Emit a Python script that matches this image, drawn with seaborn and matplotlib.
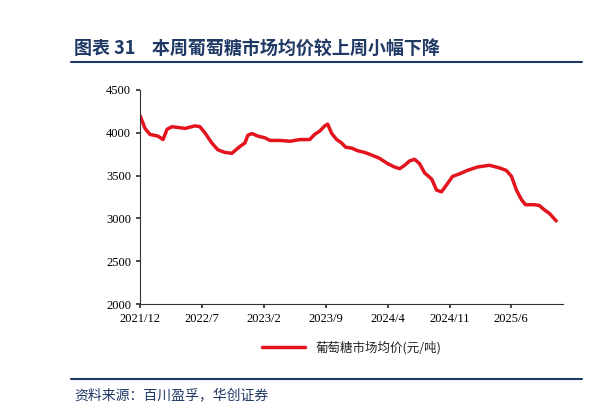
import matplotlib
matplotlib.use("Agg")
import matplotlib.pyplot as plt
import seaborn as sns
import pandas as pd

dates = ["2021-12-01","2021-12-18","2022-01-04","2022-02-01","2022-02-18","2022-03-04","2022-03-21",
 "2022-05-05","2022-06-08","2022-06-25","2022-07-12","2022-08-05","2022-08-26","2022-09-19","2022-10-13",
 "2022-11-10","2022-11-27","2022-12-07","2022-12-21","2023-01-11","2023-02-04","2023-02-21","2023-03-27",
 "2023-05-01","2023-06-04","2023-07-08","2023-07-25","2023-08-12","2023-08-29","2023-09-08","2023-09-22",
 "2023-10-09","2023-10-26","2023-11-09","2023-11-30","2023-12-20","2024-01-13","2024-02-06","2024-03-05",
 "2024-04-01","2024-04-25","2024-05-13","2024-05-30","2024-06-16","2024-07-03","2024-07-20","2024-08-07",
 "2024-08-31","2024-09-17","2024-10-04","2024-10-21","2024-11-11","2024-12-05","2025-01-01","2025-02-05",
 "2025-03-18","2025-04-21","2025-05-15","2025-06-02","2025-06-19","2025-07-06","2025-07-20","2025-08-20",
 "2025-09-06","2025-09-23","2025-10-10","2025-11-03"]
prices = [4200,4050,3980,3960,3920,4040,4070,4050,4080,4070,4000,3880,3800,3770,3760,3840,3880,3970,3990,
 3960,3940,3910,3910,3900,3920,3920,3980,4020,4080,4100,3990,3920,3880,3830,3820,3790,3770,3740,3700,
 3640,3600,3580,3620,3670,3690,3640,3530,3460,3330,3310,3390,3490,3520,3560,3600,3620,3590,3560,3490,
 3330,3220,3160,3160,3150,3100,3060,2970]
tick_labels = ["2021/12","2022/7","2023/2","2023/9","2024/4","2024/11","2025/6"]
series_name = "葡萄糖市场均价(元/吨)"

sns.set_theme(style="white")
plt.rcParams['font.family'] = ['Noto Sans CJK SC', 'DejaVu Sans']

df = pd.DataFrame({"date": pd.to_datetime(dates), "price": prices})
fig = plt.figure(figsize=(5.91, 4.16), dpi=100)
ax = fig.add_axes([0.237, 0.269, 0.715, 0.515])
sns.lineplot(data=df, x="date", y="price", color="#E3141E", linewidth=2.5, ax=ax, label=series_name)
ax.set_ylim(2000, 4500)
ax.set_yticks(range(2000, 4501, 500))
ticks = pd.to_datetime([t.replace("/", "-") + "-01" for t in tick_labels])
ax.set_xticks(ticks)
ax.set_xticklabels(tick_labels)
ax.set_xlim(pd.Timestamp("2021-12-01"), pd.Timestamp("2025-11-25"))
ax.set_xlabel(""); ax.set_ylabel("")
for s in ["top", "right"]:
    ax.spines[s].set_visible(False)
for s in ["left", "bottom"]:
    ax.spines[s].set_color("#333333"); ax.spines[s].set_linewidth(0.8)
ax.tick_params(axis="both", labelsize=9, length=3, direction="out", left=True, bottom=True, colors="#333333")
for lab in ax.get_xticklabels() + ax.get_yticklabels():
    lab.set_family(["Times New Roman", "Liberation Serif", "DejaVu Serif"])
    lab.set_color("black")
ax.legend(loc="upper center", bbox_to_anchor=(0.5, -0.12), frameon=False, fontsize=9, handlelength=3.5)

fig.text(0.125, 0.885, "图表 31    本周葡萄糖市场均价较上周小幅下降", fontsize=13, fontweight="bold",
         color="#1F3864", va="center")
fig.add_artist(plt.Line2D([0.12, 0.985], [0.85, 0.85], color="#1F3864", linewidth=1.5))
fig.add_artist(plt.Line2D([0.12, 0.985], [0.09, 0.09], color="#1F3864", linewidth=1.5))
fig.text(0.125, 0.05, "资料来源：百川盈孚，华创证券", fontsize=10, style="italic", color="#1F3864", va="center")
fig.savefig("out.png", dpi=100)
